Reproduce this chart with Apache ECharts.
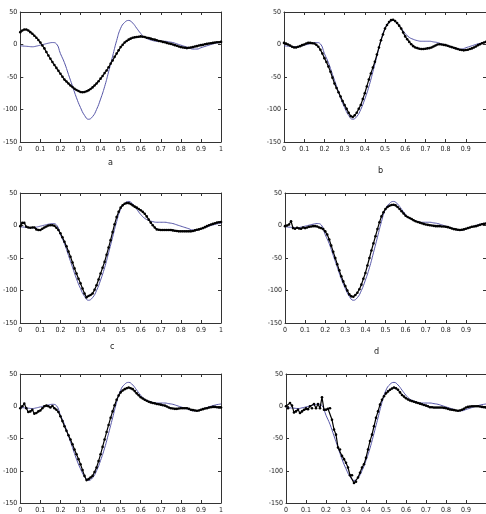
<!DOCTYPE html>
<html>
<head>
<meta charset="utf-8">
<script src="https://cdn.jsdelivr.net/npm/echarts@6/dist/echarts.min.js"></script>
<style>html,body{margin:0;padding:0;background:#fff}#c{width:486px;height:514px}</style>
</head>
<body>
<div id="c"></div>
<script>
// x tick labels (0..1 step 0.1), y tick labels
const xTicks = ['0','0.1','0.2','0.3','0.4','0.5','0.6','0.7','0.8','0.9','1'];
const yTicks = [50, 0, -50, -100, -150];
const panelLabels = ['a','b','c','d','e','f'];

// reference waveform (blue), sampled every 0.02 from 0 to 1
const blueRef = [-2,-2.5,-3,-3.5,-2.5,-1,0.5,2,3,1,-14,-28,-46,-64,-82,-97,-109,-115,-111,-100,-84,-65,-42,-18,6,25,34,37,33,25,17,11,8,6,5,5,5,4,3,1,-1,-3,-5,-7,-7,-5,-3,-1,1,2.5,3.5];

// estimated waveforms (black dotted), sampled every 0.01 from 0 to 1
const estA = [19,21.5,23,23,21.5,19,16.5,13.5,10.5,7,3,-1.5,-6,-11.5,-17,-22,-27,-31.5,-36,-40.5,-45,-49.5,-54,-57,-60,-63,-65.5,-68,-70,-71.5,-73,-73.5,-73,-72,-70.5,-68.5,-66,-63,-60,-56.5,-52.5,-48.5,-44,-40,-35,-29.5,-24.5,-19,-14,-9,-4,-0.5,3,5.5,7.5,9,10.5,11,11.5,12,12.5,12,11.5,10.5,10,9,8,7.5,6.5,5.5,5,4,3.5,2.5,1.5,1,0,-1,-2,-3,-4,-4.5,-5,-5.5,-5,-4.5,-4,-3,-2.5,-1.5,-1,-0.5,0.5,1,1.5,2,2.5,3,3.5,3.5,4];
const estB = [2.5,1.5,0,-1.5,-3.5,-4.5,-4.5,-3.5,-2.5,-1,0,1.5,2.5,2.5,2,1.5,-0.5,-3.5,-8,-14,-21,-27,-34,-42,-51,-60,-67,-73.5,-80,-87,-93,-99,-105,-110,-111.5,-109,-105,-99,-93,-84,-75,-64.5,-54,-44.5,-35.5,-26.5,-15.5,-4.5,6.5,15.5,24.5,30,34.5,37.5,38,36,33,29,24.5,18.5,12.5,8,4,0.5,-2.5,-4.5,-5.5,-6.5,-7,-7,-6.5,-6,-5.5,-4.5,-3,-1.5,0,0.5,0,-0.5,-1,-2,-3,-4,-5,-6,-7,-8,-8.5,-9,-8.5,-8,-7,-6,-4.5,-3,-1,0.5,2,3,4];
const estC = [-1,4,4,-2,-3,-3.5,-3,-3,-6,-7,-7,-5,-3,-1.5,0,0.5,0.5,-0.5,-3.5,-7,-12,-18,-25,-32,-40,-48,-57,-66,-74,-82,-89,-97,-104.5,-110.5,-108.5,-107,-104.5,-99,-92,-83,-74,-65,-56,-45,-34,-22.5,-10,2,13,21,27.5,31,33.5,34.5,34.5,33,31,29,27.5,25.5,23.5,21,18,14,9,4.5,0.5,-3,-6,-6.5,-7,-7,-7,-7,-7,-7,-7.5,-8,-8.5,-9,-9,-9,-9,-9,-9,-9,-8.5,-7.5,-6.5,-6,-5,-4,-2.5,-1,0.5,1.5,2.5,3.5,4.5,5,5.5];
const estD = [-1,0,1.5,6.5,-4,-5,-3.5,-4.5,-5,-3,-4,-3,-2,-1.5,-1,-1,-1.5,-3,-4,-5.5,-9,-14,-21.5,-31,-40.5,-50,-59.5,-69,-78,-86,-93,-100,-106,-109,-109.5,-107,-103.5,-98,-91,-82,-73,-61.5,-50,-38.5,-27.5,-16.5,-5.5,5,14,20.5,25.5,28.5,30.5,31.5,32,31,28.5,25.5,22,18.5,15,13,11.5,10,8,6.5,5.5,4.5,3.5,2.5,1.5,1,0.5,0,-0.5,-1,-1,-1,-1.5,-1.5,-2,-2.5,-3.5,-4.5,-5.5,-6,-6.5,-7,-6.5,-6,-5,-4,-3,-2,-1.5,-1,0,1,2,2.5,3];
const estE = [-3,0,4,-3,-9,-8,-5.5,-11.5,-10.5,-8,-6.5,-3,0,1,0,-2,0.5,-3,-5.5,-9,-15.5,-23,-31,-38,-45,-51.5,-59,-67,-74.5,-82,-90,-99,-108,-114.5,-113,-110.5,-108,-102,-95,-85,-74.5,-63,-51.5,-40,-29,-18,-8,1.5,10,16.5,21.5,24.5,26.5,28,29,28,26.5,23.5,20,17,14,12,10,8.5,7,6,5,4.5,3.5,3,2.5,1.5,1,-0.5,-2,-3,-3.5,-4,-4,-3.5,-3,-3,-3,-3,-4,-5.5,-6,-6.5,-7,-6.5,-5.5,-4.5,-3.5,-3,-2,-1.5,-1,-1,-1.5,-2,-2];
const estF = [0,-3,5,1,-9.5,-8,-5.5,-10.5,-8,-5.5,-3,-4.5,0,-3,3.5,-3,3.5,-3,14,-5.5,-5.5,-4,-3,-21,-36,-44,-64,-67,-77,-82,-87.5,-95,-107,-107,-119,-117,-110.5,-103,-95,-90,-80,-67,-54,-44,-31,-18,-8,2.5,10,15.5,20,23,25.5,27.5,29,28,25.5,21.5,17.5,15,12.5,10.5,9,8,7,6,5,4,3,2,1,0,-1.5,-1.5,-2,-2,-2,-2,-2,-2.5,-3,-4,-5,-5.5,-6,-6.5,-7,-6.5,-5.5,-4,-2,-1,-0.5,0,0,0,0,-0.5,-1,-1.5,-2];

const estimates = [estA, estB, estC, estD, estE, estF];

// layout (positions kept out of the data arrays)
const layout = [
  {left: 18,  top: 12,  lx: 108, ly: 158, right: false},
  {left: 284, top: 12,  lx: 378, ly: 166, right: true},
  {left: 18,  top: 193, lx: 110, ly: 342, right: false},
  {left: 285, top: 193, lx: 374, ly: 347, right: true},
  {left: 18,  top: 374, lx: 0,   ly: 0,   right: false, noLabel: true},
  {left: 286, top: 374, lx: 0,   ly: 0,   right: true,  noLabel: true}
];
const W = 203, H = 130;

const FONT = "'Liberation Sans Narrow','DejaVu Sans Condensed','Liberation Sans',sans-serif";
const AXC = '#333';

const grid = [], xAxis = [], yAxis = [], series = [], graphic = [];

layout.forEach((p, i) => {
  grid.push({left: p.left, top: p.top, width: W, height: H, containLabel: false});
  const baseX = {
    type: 'value', min: 0, max: 1, interval: 0.1, gridIndex: i,
    axisLine: {show: true, onZero: false, lineStyle: {color: AXC, width: 1}},
    axisTick: {show: true, inside: true, length: 3, lineStyle: {color: AXC}},
    splitLine: {show: false}
  };
  xAxis.push(Object.assign({}, baseX, {
    position: 'bottom',
    axisLabel: {show: true, margin: 4, fontSize: 7, fontFamily: FONT, color: '#222',
      showMaxLabel: !p.right,
      formatter: v => xTicks[Math.round(v * 10)]}
  }));
  xAxis.push(Object.assign({}, baseX, {position: 'top', axisLabel: {show: false}}));
  const baseY = {
    type: 'value', min: -150, max: 50, interval: 50, gridIndex: i,
    axisLine: {show: true, onZero: false, lineStyle: {color: AXC, width: 1}},
    axisTick: {show: true, inside: true, length: 3, lineStyle: {color: AXC}},
    splitLine: {show: false}
  };
  yAxis.push(Object.assign({}, baseY, {
    position: 'left',
    axisLabel: {show: true, margin: 3, fontSize: 7, fontFamily: FONT, color: '#222',
      formatter: v => String(yTicks.find(t => t === v) ?? v)}
  }));
  yAxis.push(Object.assign({}, baseY, {position: 'right', axisLabel: {show: false}}));

  const bluePts = blueRef.map((v, k) => [Math.round(k * 2) / 100, v]);
  const estPts = estimates[i].map((v, k) => [k / 100, v]);
  series.push({
    type: 'line', xAxisIndex: 2 * i, yAxisIndex: 2 * i, data: bluePts,
    smooth: true, showSymbol: false, lineStyle: {color: '#5656a8', width: 1}, z: 2
  });
  series.push({
    type: 'line', xAxisIndex: 2 * i, yAxisIndex: 2 * i, data: estPts,
    smooth: false, symbol: 'circle', symbolSize: 2.6, showSymbol: true,
    itemStyle: {color: '#000'}, lineStyle: {color: '#000', width: 1.2}, z: 3
  });
  if (!p.noLabel) {
    graphic.push({type: 'text', left: p.lx, top: p.ly,
      style: {text: panelLabels[i], fontSize: 9, fontFamily: FONT, fill: '#222'}});
  }
});

const chart = echarts.init(document.getElementById('c'), null, {renderer: 'canvas'});
chart.setOption({
  animation: false,
  backgroundColor: '#fff',
  grid, xAxis, yAxis, series, graphic
});
</script>
</body>
</html>
